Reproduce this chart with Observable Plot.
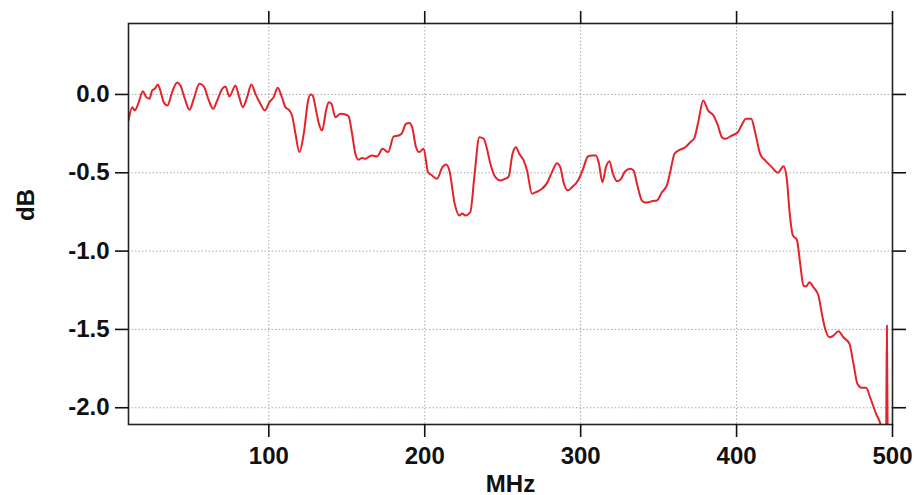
<!DOCTYPE html>
<html>
<head>
<meta charset="utf-8">
<script src="https://cdn.jsdelivr.net/npm/d3@7"></script>
<script src="https://cdn.jsdelivr.net/npm/@observablehq/plot@0.6"></script>
<style>
  html, body { margin: 0; padding: 0; background: #fff; }
</style>
</head>
<body>
<script>
// Frequency (MHz) and response (dB)
const freq = [
  10, 12.4, 14.0, 16.6, 19.2, 21.3, 23.5, 25.2, 26.9, 28.8, 30.1, 32.6, 35.0, 38.0, 41.2, 43.3,
  46.1, 49.1, 51.9, 55.5, 58.3, 61.5, 64.3, 66.9, 70.1, 72.2, 74.7, 78.6, 80.7, 83.3, 86.1, 88.8,
  91.4, 94.6, 97.4, 100.4, 103.1, 105.7, 108.5, 110.6, 112.8, 114.9, 117.1, 119.6,
  122.4, 125.2, 126.7, 128.1, 130.3, 132.0, 134.2, 136.7, 138.4, 140.1, 142.7, 145.9, 149.1, 151.2,
  153.4, 155.5, 157.6, 159.8, 161.9, 164.0, 166.2, 169.4, 173.0, 176.5, 180.1, 183.3, 185.4, 188.0,
  190.1, 191.9, 194.4, 196.5, 199.3, 202.1, 204.7, 207.9, 211.1, 213.7, 215.8, 219.2, 222.2, 224.1,
  226.0, 229.2,
  232.0, 235.0, 237.8, 239.9, 242.1, 245.3, 248.5, 251.7, 253.8, 256.3, 258.5, 260.6, 263.4, 265.6,
  268.8, 271.3, 275.2, 278.4, 281.6, 284.8, 286.9, 289.0, 291.9, 294.4, 298.3, 301.2, 304.7, 307.2,
  309.8, 311.5, 314.0, 316.2, 318.5, 320.4, 323.3, 325.4, 328.6, 331.8, 333.9, 336.1, 339.3,
  341.4, 343.5, 346.2, 348.9, 352.1, 355.3, 357.4, 360.2, 362.8, 367.1, 370.3, 372.9, 375.4, 378.6,
  381.7, 385.2, 388.0, 390.6, 392.7, 397.0, 400.8, 403.4, 406.0, 409.4, 411.9, 415.1, 418.3, 422.6,
  426.5, 430.1, 432.2,
  433.9, 436.1, 438.7, 440.8, 442.9, 444.6, 446.7, 449.3, 452.5, 454.7, 456.8, 459.6, 462.1, 465.3,
  468.5, 472.4, 475.0, 477.5, 480.3, 483.1, 485.6, 489.5, 492.1, 494.0, 495.9, 496.4, 496.9, 500
];
const db = [
  -0.166, -0.081, -0.102, -0.049, 0.021, -0.017, -0.027, 0.026, 0.036, 0.064, 0.036, -0.049, -0.070, 0.015, 0.077, 0.057,
  -0.027, -0.098, -0.027, 0.068, 0.051, -0.038, -0.091, -0.038, 0.036, 0.051, -0.013, 0.057, -0.006, -0.081, -0.017, 0.064,
  0.004, -0.059, -0.102, -0.049, -0.017, 0.043, -0.021, -0.081, -0.098, -0.134, -0.251, -0.368,
  -0.251, -0.038, 0.000, -0.006, -0.102, -0.183, -0.230, -0.102, -0.049, -0.059, -0.145, -0.123, -0.128, -0.140,
  -0.251, -0.379, -0.417, -0.405, -0.411, -0.398, -0.390, -0.396, -0.347, -0.368, -0.268, -0.262, -0.247, -0.187,
  -0.183, -0.209, -0.337, -0.368, -0.347, -0.496, -0.517, -0.538, -0.468, -0.447, -0.485, -0.698, -0.773, -0.760,
  -0.773, -0.752,
  -0.506, -0.273, -0.283, -0.347, -0.443, -0.528, -0.549, -0.538, -0.524, -0.379, -0.337, -0.379, -0.421, -0.485,
  -0.634, -0.624, -0.602, -0.566, -0.496, -0.439, -0.464, -0.560, -0.613, -0.592, -0.549, -0.485, -0.396, -0.390,
  -0.390, -0.432, -0.560, -0.464, -0.426, -0.496, -0.554, -0.545, -0.490, -0.474, -0.485, -0.570, -0.677,
  -0.690, -0.688, -0.680, -0.677, -0.624, -0.581, -0.496, -0.379, -0.358, -0.337, -0.305, -0.279, -0.177, -0.038,
  -0.102, -0.134, -0.198, -0.273, -0.283, -0.262, -0.241, -0.193, -0.155, -0.155, -0.241, -0.379, -0.421, -0.464,
  -0.500, -0.458, -0.538,
  -0.741, -0.900, -0.928, -1.081, -1.220, -1.226, -1.199, -1.231, -1.284, -1.400, -1.496, -1.550, -1.539, -1.512,
  -1.550, -1.592, -1.720, -1.847, -1.873, -1.873, -1.933, -2.039, -2.099, -2.180, -2.180, -1.475, -2.180, -2.200
];
const xTicks = [100, 200, 300, 400, 500];
const yTicks = [0, -0.5, -1.0, -1.5, -2.0];

const data = freq.map((f, i) => ({f, db: db[i]}));

const chart = Plot.plot({
  width: 915,
  height: 495,
  marginLeft: 128,
  marginRight: 23,
  marginTop: 23,
  marginBottom: 71,
  style: {
    fontFamily: "'Liberation Sans', Arial, Helvetica, sans-serif",
    fontSize: "24px",
    fontWeight: "bold",
    background: "#fff",
    color: "#111",
    overflow: "visible"
  },
  x: {domain: [10, 500]},
  y: {domain: [-2.107, 0.453]},
  marks: [
    Plot.gridX(xTicks.slice(0, 4), {stroke: "#aaa", strokeOpacity: 1, strokeWidth: 1, strokeDasharray: "1.5,2"}),
    Plot.gridY(yTicks, {stroke: "#aaa", strokeOpacity: 1, strokeWidth: 1, strokeDasharray: "1.5,2"}),
    Plot.line(data, {x: "f", y: "db", stroke: "#e3232b", strokeWidth: 2, curve: "monotone-x", clip: true}),
    Plot.frame({stroke: "#222", strokeWidth: 1.6}),
    Plot.axisX(xTicks, {anchor: "bottom", tickSize: 13, tickPadding: 9, strokeWidth: 1.6, label: null}),
    Plot.axisX(xTicks, {anchor: "top", tickSize: 13, strokeWidth: 1.6, fill: "none", label: null}),
    Plot.axisY(yTicks, {anchor: "left", tickSize: 13, tickPadding: 6, strokeWidth: 1.6, label: null, tickFormat: d => d.toFixed(1)}),
    Plot.axisY(yTicks, {anchor: "right", tickSize: 13, strokeWidth: 1.6, fill: "none", label: null}),
    Plot.text(["MHz"], {frameAnchor: "bottom", dy: 67, text: d => d, fontSize: 24, fontWeight: "bold"}),
    Plot.text(["dB"], {frameAnchor: "left", dx: -102, dy: -3, rotate: -90, text: d => d, fontSize: 24, fontWeight: "bold"})
  ]
});
document.body.appendChild(chart);
</script>
</body>
</html>
